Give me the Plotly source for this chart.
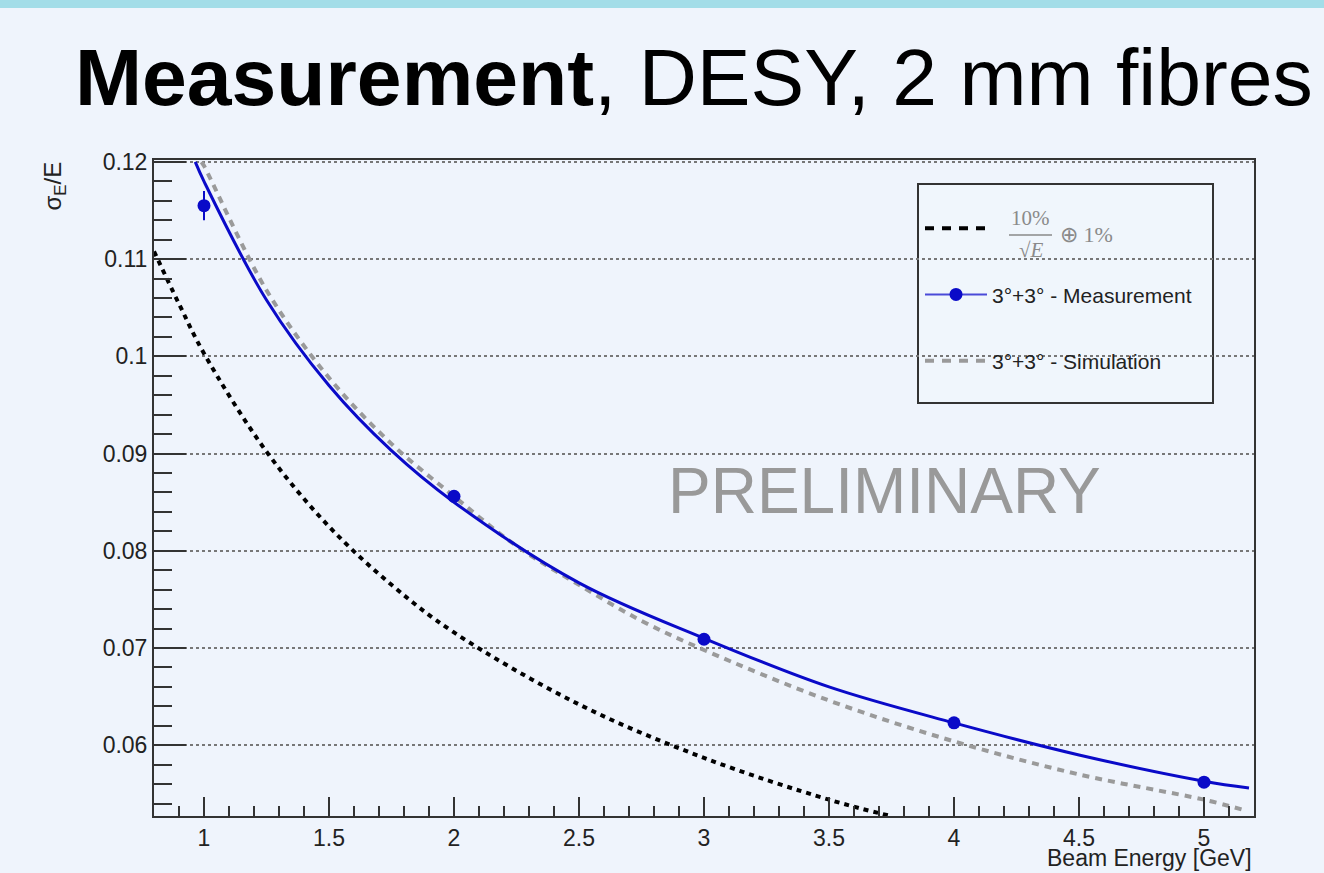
import plotly.graph_objects as go

# ---------------- data ----------------
# reference curve 10%/sqrt(E) (+) 1%
E_ref = [0.8, 0.9, 1.0, 1.25, 1.5, 1.75, 2.0, 2.5, 3.0, 3.5, 3.75]
res_ref = [0.1108, 0.1054, 0.1003, 0.0902, 0.0825, 0.0765, 0.0716, 0.0642, 0.0587, 0.0544, 0.0527]

# fit through measurement (blue solid)
E_fit = [0.965, 1.0, 1.25, 1.5, 1.75, 2.0, 2.5, 3.0, 3.5, 4.0, 4.5, 5.0, 5.18]
res_fit = [0.1200, 0.1180, 0.1058, 0.0970, 0.0903, 0.0850, 0.0767, 0.0710, 0.0660, 0.0623, 0.0590, 0.0563, 0.0556]

# simulation (grey dashed)
E_sim = [0.99, 1.0, 1.25, 1.5, 1.75, 2.0, 2.25, 2.5, 2.75, 3.0, 3.5, 4.0, 4.5, 5.0, 5.15]
res_sim = [0.1200, 0.1196, 0.1068, 0.0978, 0.0910, 0.0856, 0.0805, 0.0765, 0.0728, 0.0698, 0.0646, 0.0604, 0.0570, 0.0544, 0.0534]

# measurement points
E_meas = [1, 2, 3, 4, 5]
res_meas = [0.1155, 0.0856, 0.0709, 0.0623, 0.0562]
err_meas = [0.0015, 0.0004, 0.0003, 0.0003, 0.0003]

y_tickvals = [0.06, 0.07, 0.08, 0.09, 0.10, 0.11, 0.12]
y_ticktext = ["0.06", "0.07", "0.08", "0.09", "0.1", "0.11", "0.12"]
x_tickvals = [1, 1.5, 2, 2.5, 3, 3.5, 4, 4.5, 5]
x_ticktext = ["1", "1.5", "2", "2.5", "3", "3.5", "4", "4.5", "5"]

legend_names = ["\u00a0", "3°+3° - Measurement", "3°+3° - Simulation"]
formula_num, formula_den, formula_rest = "10%", "√<i>E</i>", "⊕ 1%"

BLUE = "#0a0ac8"
GREY = "#9a9a9a"
FONT = "Liberation Sans, Arial, sans-serif"
SERIF = "Liberation Serif, Times New Roman, serif"

fig = go.Figure()

# curves in plot (no legend)
fig.add_trace(go.Scatter(x=E_ref, y=res_ref, mode="lines", line_shape="spline",
                         line=dict(color="black", width=4, dash="5px,5px"), showlegend=False))
fig.add_trace(go.Scatter(x=E_sim, y=res_sim, mode="lines", line_shape="spline",
                         line=dict(color=GREY, width=4, dash="7px,6px"), showlegend=False))
fig.add_trace(go.Scatter(x=E_fit, y=res_fit, mode="lines", line_shape="spline",
                         line=dict(color=BLUE, width=3), showlegend=False))
fig.add_trace(go.Scatter(x=E_meas, y=res_meas, mode="markers",
                         marker=dict(color=BLUE, size=13),
                         error_y=dict(type="data", array=err_meas, color=BLUE, thickness=2, width=0),
                         showlegend=False))

# legend-only entries
fig.add_trace(go.Scatter(x=[None], y=[None], mode="lines", name=legend_names[0], legendgroup="a",
                         line=dict(color="black", width=4, dash="9px,8px")))
fig.add_trace(go.Scatter(x=[None], y=[None], mode="lines+markers", name=legend_names[1], legendgroup="b",
                         line=dict(color="#4a4ad8", width=2), marker=dict(color=BLUE, size=13)))
fig.add_trace(go.Scatter(x=[None], y=[None], mode="lines", name=legend_names[2], legendgroup="c",
                         line=dict(color=GREY, width=4, dash="9px,8px")))

L, R, T, B = 154, 70, 160, 57
W, H = 1324, 873
pw, ph = W - L - R, H - T - B


def px_x(px):
    return (px - L) / pw


def px_y(py):
    return (H - B - py) / ph


fig.update_layout(
    width=W, height=H,
    margin=dict(l=L, r=R, t=T, b=B),
    paper_bgcolor="#eff4fc",
    plot_bgcolor="rgba(0,0,0,0)",
    font=dict(family=FONT, color="#222", size=22),
    title=dict(text="<b>Measurement</b>, DESY, 2 mm fibres",
               x=75 / W, xanchor="left", xref="container",
               y=1 - 77 / H, yanchor="middle", yref="container",
               font=dict(size=80.5, color="black", family=FONT)),
    legend=dict(x=px_x(920), y=px_y(208), xanchor="left", yanchor="top",
                bgcolor="rgba(0,0,0,0)", borderwidth=0,
                font=dict(size=21, color="#222", family=FONT),
                tracegroupgap=36, itemwidth=62, traceorder="grouped"),
    xaxis=dict(range=[0.8, 5.2], tickvals=x_tickvals, ticktext=x_ticktext,
               ticks="inside", ticklen=19, tickwidth=2, tickcolor="#333",
               minor=dict(dtick=0.1, ticks="inside", ticklen=10, tickwidth=2, tickcolor="#333"),
               showline=True, linecolor="#333", linewidth=2, mirror=True,
               showgrid=False, zeroline=False,
               tickfont=dict(size=23, color="#222")),
    yaxis=dict(range=[0.05272, 0.1202], tickvals=y_tickvals, ticktext=y_ticktext,
               ticks="inside", ticklen=32, tickwidth=2, tickcolor="#333",
               minor=dict(dtick=0.002, ticks="inside", ticklen=18, tickwidth=2, tickcolor="#333"),
               showline=True, linecolor="#333", linewidth=2, mirror=True,
               showgrid=True, gridcolor="#777", gridwidth=1.5, griddash="dot",
               zeroline=False,
               tickfont=dict(size=23, color="#222")),
    shapes=[
        dict(type="rect", xref="paper", yref="paper",
             x0=px_x(0), x1=px_x(W), y0=px_y(8), y1=px_y(0),
             fillcolor="#a3dde8", line=dict(width=0), layer="below"),
        # legend frame
        dict(type="rect", xref="paper", yref="paper",
             x0=px_x(918), x1=px_x(1213), y0=px_y(403), y1=px_y(184),
             fillcolor="#f0f6fc", line=dict(color="#333", width=2), layer="between"),
        # fraction bar of the formula
        dict(type="line", xref="paper", yref="paper",
             x0=px_x(1009), x1=px_x(1052), y0=px_y(235), y1=px_y(235),
             line=dict(color="#8a8a8a", width=1.5), layer="above"),
    ],
    annotations=[
        dict(text="PRELIMINARY", xref="paper", yref="paper", x=px_x(884), y=px_y(491),
             xanchor="center", yanchor="middle", showarrow=False,
             font=dict(size=64, color="#999999", family=FONT)),
        dict(text="Beam Energy [GeV]", xref="paper", yref="paper", x=px_x(1254), y=px_y(873),
             xanchor="right", yanchor="bottom", showarrow=False,
             font=dict(size=23, color="#222", family=FONT)),
        dict(text="σ<sub>E</sub>/E", xref="paper", yref="paper", x=px_x(54), y=px_y(160),
             xanchor="center", yanchor="top", textangle=-90, showarrow=False,
             font=dict(size=24, color="#222", family=FONT)),
        dict(text=formula_num, xref="paper", yref="paper", x=px_x(1030), y=px_y(218),
             xanchor="center", yanchor="middle", showarrow=False,
             font=dict(size=21, color="#8a8a8a", family=SERIF)),
        dict(text=formula_den, xref="paper", yref="paper", x=px_x(1031), y=px_y(250),
             xanchor="center", yanchor="middle", showarrow=False,
             font=dict(size=21, color="#8a8a8a", family=SERIF)),
        dict(text=formula_rest, xref="paper", yref="paper", x=px_x(1058), y=px_y(234),
             xanchor="left", yanchor="middle", showarrow=False,
             font=dict(size=22, color="#8a8a8a", family=SERIF)),
    ],
)

fig.write_html("out.html", config={"displayModeBar": False},
               post_script="document.body.style.margin='0';document.body.style.overflow='hidden';")
